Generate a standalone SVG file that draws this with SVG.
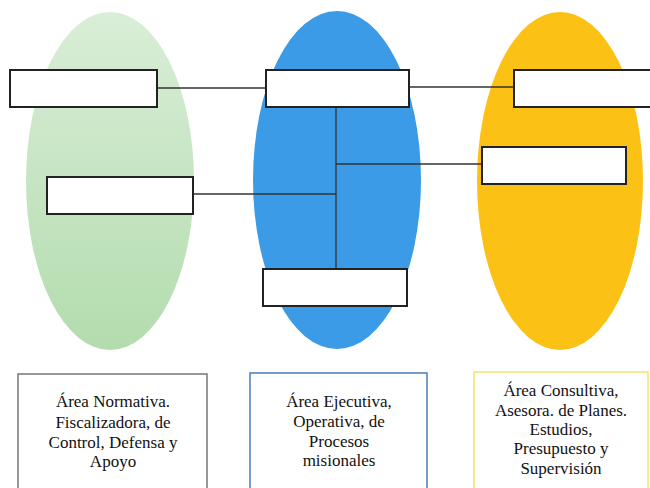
<svg xmlns="http://www.w3.org/2000/svg" width="650" height="488" viewBox="0 0 650 488">
<style>
.box{fill:#fff;stroke:#222;stroke-width:2}
.ln{stroke:#333;stroke-width:1.3;fill:none}
.t{font-family:"Liberation Serif","Times New Roman",serif;font-size:17px;fill:#111;text-anchor:middle}
</style>
<defs>
<linearGradient id="gg" x1="0" y1="0" x2="0" y2="1">
<stop offset="0" stop-color="#d9eed7"/>
<stop offset="1" stop-color="#b3dcae"/>
</linearGradient>
</defs>
<rect width="650" height="488" fill="#fff"/>
<g id="areas">
<ellipse id="green" cx="110" cy="181" rx="84" ry="169" fill="url(#gg)"/>
<ellipse id="blue" cx="337" cy="180" rx="84" ry="169" fill="#3b9be6"/>
<ellipse id="yellow" cx="560" cy="181" rx="83" ry="169" fill="#fbc215"/>
</g>
<g id="connectors">
<line class="ln" x1="157" y1="88" x2="266" y2="88"/>
<line class="ln" x1="409" y1="87" x2="514" y2="87"/>
<line class="ln" x1="336" y1="107" x2="336" y2="269"/>
<line class="ln" x1="336" y1="164" x2="482" y2="164"/>
<line class="ln" x1="193" y1="194" x2="336" y2="194"/>
</g>
<g id="n1"><rect class="box" x="10" y="70" width="147" height="37"/></g>
<g id="n2"><rect class="box" x="266" y="70" width="143" height="37"/></g>
<g id="n3"><rect class="box" x="514" y="70" width="140" height="37"/></g>
<g id="n4"><rect class="box" x="47" y="177" width="146" height="37"/></g>
<g id="n5"><rect class="box" x="482" y="147" width="144" height="37"/></g>
<g id="n6"><rect class="box" x="263" y="269" width="144" height="37"/></g>
<g id="l1">
<rect x="18" y="374" width="189" height="122" fill="#fff" stroke="#777" stroke-width="1.5"/>
<text class="t" x="113" y="407">Área Normativa.</text>
<text class="t" x="113" y="428">Fiscalizadora, de</text>
<text class="t" x="113" y="448">Control, Defensa y</text>
<text class="t" x="113" y="467">Apoyo</text>
</g>
<g id="l2">
<rect x="250" y="373" width="177" height="123" fill="#fff" stroke="#4a7db8" stroke-width="1.5"/>
<text class="t" x="339" y="407">Área Ejecutiva,</text>
<text class="t" x="339" y="427">Operativa, de</text>
<text class="t" x="339" y="447">Procesos</text>
<text class="t" x="339" y="466">misionales</text>
</g>
<g id="l3">
<rect x="474" y="372" width="174" height="124" fill="#fff" stroke="#f3e46c" stroke-width="1.5"/>
<text class="t" x="561" y="396">Área Consultiva,</text>
<text class="t" x="561" y="416">Asesora. de Planes.</text>
<text class="t" x="561" y="435">Estudios,</text>
<text class="t" x="561" y="454">Presupuesto y</text>
<text class="t" x="561" y="474">Supervisión</text>
</g>
</svg>
